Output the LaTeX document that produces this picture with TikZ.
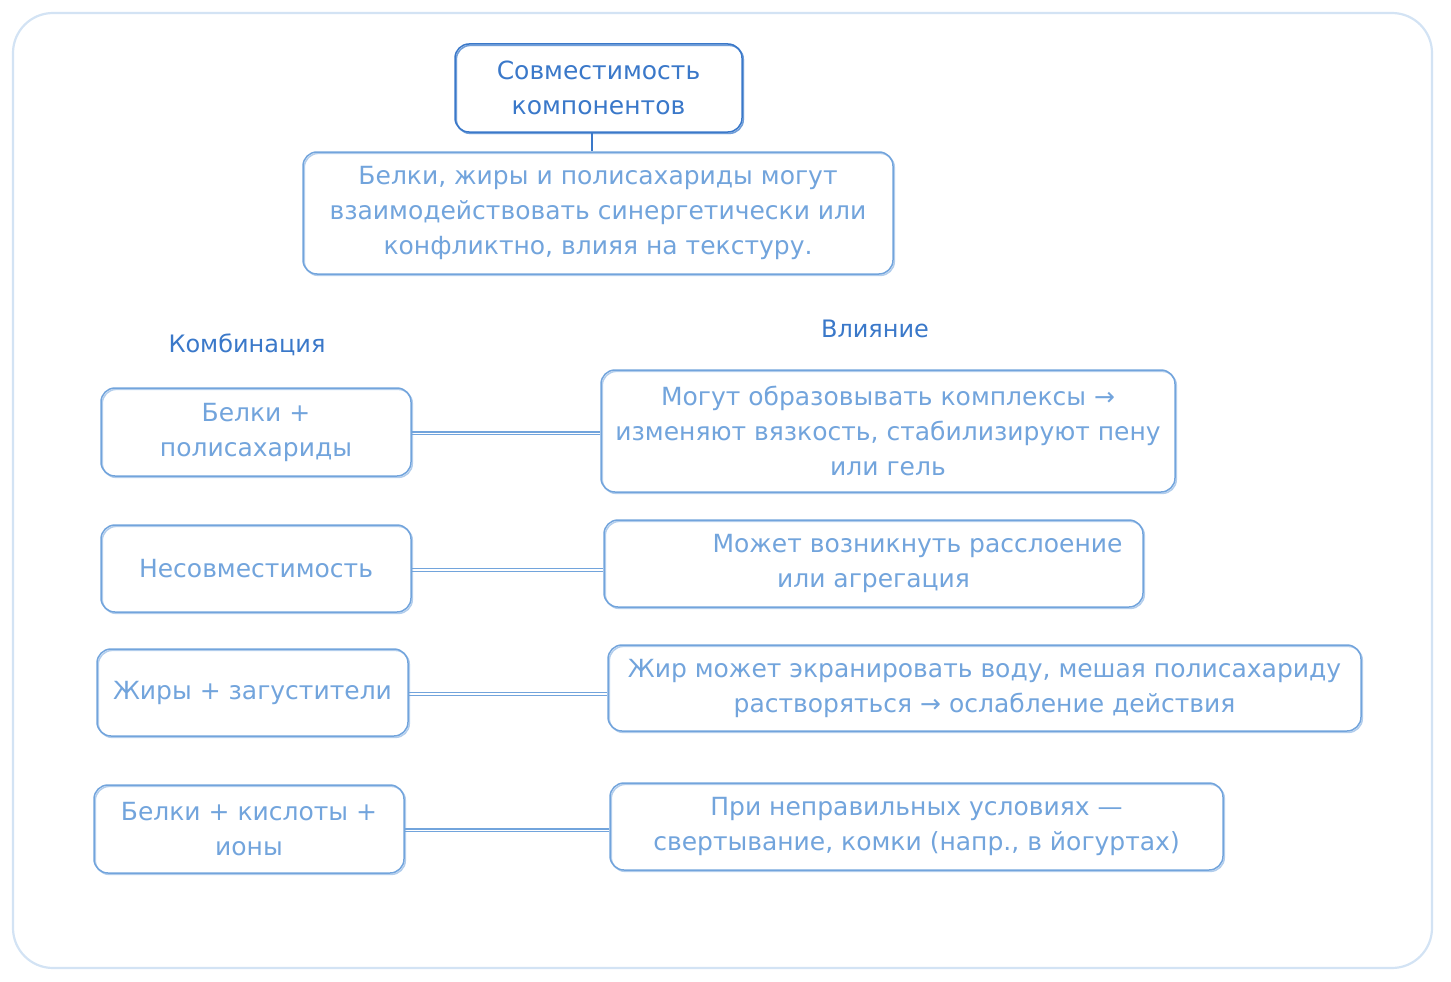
\documentclass[tikz,border=0pt]{standalone}
\usepackage{fontspec}
\setmainfont{DejaVu Sans}
\begin{document}
\definecolor{frameblue}{HTML}{D3E3F4}
\definecolor{deepblue}{HTML}{3A78C9}
\definecolor{softblue}{HTML}{72A4DC}
\tikzset{
  x=1pt, y=-1pt,
  sketch/.style={preaction={draw=#1, opacity=0.55, transform canvas={xshift=1.3pt, yshift=-1.4pt}}},
  card/.style={draw=softblue, text=softblue, line width=1.5pt, rounded corners=14pt,
    inner sep=0pt, align=center, sketch=softblue, font=\fontsize{25}{35}\selectfont},
  headcard/.style={card, draw=deepblue, text=deepblue, sketch=deepblue},
  heading/.style={text=deepblue, font=\fontsize{24}{35}\selectfont},
  link/.style={draw=softblue, line width=1.4pt,
    preaction={draw=softblue, transform canvas={yshift=-2.6pt}}},
}
\begin{tikzpicture}
  \useasboundingbox (0,0) rectangle (1451,982);
  % outer frame
  \draw[frameblue, line width=2.2pt, rounded corners=40pt] (13,13) rectangle (1432,968);

  % header and description
  \node[headcard, minimum width=287pt, minimum height=88pt] (title) at (598.5,88)
    {Совместимость\\компонентов};
  \node[card, minimum width=590pt, minimum height=122pt] (desc) at (598,213)
    {Белки, жиры и полисахариды могут\\взаимодействовать синергетически или\\конфликтно, влияя на текстуру.};
  \draw[deepblue, line width=1.4pt] (title.south -| 592,0) -- (desc.north -| 592,0);

  % column headings
  \node[heading] (hcomb) at (247,345) {Комбинация};
  \node[heading] (himpact) at (875,329) {Влияние};

  % combinations
  \node[card, minimum width=310pt, minimum height=88pt] (l1) at (256,432) {Белки +\\полисахариды};
  \node[card, minimum width=310pt, minimum height=87pt] (l2) at (256,568.5) {Несовместимость};
  \node[card, minimum width=311pt, minimum height=87pt] (l3) at (252.5,692.5) {Жиры + загустители};
  \node[card, minimum width=310pt, minimum height=88pt] (l4) at (249,829) {Белки + кислоты +\\ионы};

  % impacts
  \node[card, minimum width=574pt, minimum height=122pt] (r1) at (888,431)
    {Могут образовывать комплексы →\\изменяют вязкость, стабилизируют пену\\или гель};
  \node[card, minimum width=539pt, minimum height=87pt] (r2) at (873.5,563.5)
    {\hspace*{88pt}Может возникнуть расслоение\\или агрегация};
  \node[card, minimum width=753pt, minimum height=86pt] (r3) at (984.5,688)
    {Жир может экранировать воду, мешая полисахариду\\растворяться → ослабление действия};
  \node[card, minimum width=613pt, minimum height=87pt] (r4) at (916.5,826.5)
    {При неправильных условиях —\\свертывание, комки (напр., в йогуртах)};

  % connectors, level with each combination card
  \draw[link] (l1.east) -- (l1.east -| r1.west);
  \draw[link] (l2.east) -- (l2.east -| r2.west);
  \draw[link] (l3.east) -- (l3.east -| r3.west);
  \draw[link] (l4.east) -- (l4.east -| r4.west);
\end{tikzpicture}
\end{document}
